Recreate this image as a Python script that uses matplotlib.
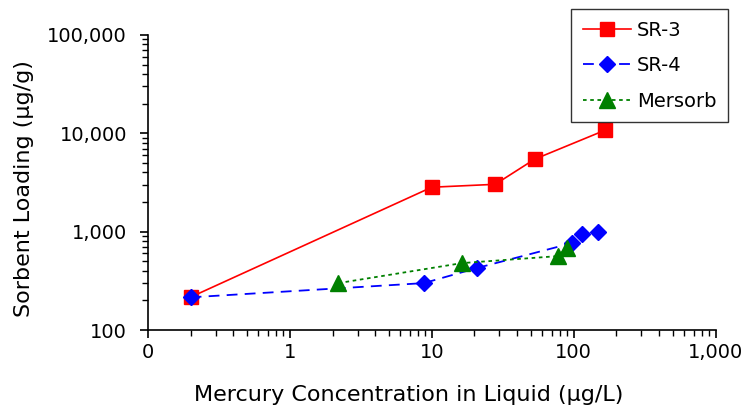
import matplotlib.pyplot as plt
from matplotlib.ticker import FixedLocator, LogLocator, NullFormatter

# data (log-log)
sr3_x = [0.2, 10, 28, 53, 165]
sr3_y = [216, 2830, 3030, 5450, 10700]

sr4_x = [0.2, 8.8, 20.7, 97, 114, 148]
sr4_y = [215, 300, 426, 764, 943, 990]

mersorb_x = [2.2, 16.3, 77, 89]
mersorb_y = [300, 479, 564, 680]

x_ticks = [0.1, 1, 10, 100, 1000]
x_tick_labels = ["0", "1", "10", "100", "1,000"]
y_ticks = [100, 1000, 10000, 100000]
y_tick_labels = ["100", "1,000", "10,000", "100,000"]


def main():
    fig = plt.figure(figsize=(7.47, 4.11), dpi=100)
    ax = fig.add_axes([0.198, 0.197, 0.76, 0.718])

    ax.plot(sr3_x, sr3_y, color="red", linestyle="-", linewidth=1.2,
            marker="s", markersize=10, label="SR-3")
    ax.plot(sr4_x, sr4_y, color="blue", linestyle=(0, (6, 4)), linewidth=1.3,
            marker="D", markersize=8.5, label="SR-4")
    ax.plot(mersorb_x, mersorb_y, color="green", linestyle=(0, (2, 2)), linewidth=1.3,
            marker="^", markersize=11, label="Mersorb")

    ax.set_xscale("log")
    ax.set_yscale("log")
    ax.set_xlim(0.1, 1000)
    ax.set_ylim(100, 100000)

    ax.xaxis.set_major_locator(FixedLocator(x_ticks))
    ax.set_xticklabels(x_tick_labels)
    ax.yaxis.set_major_locator(FixedLocator(y_ticks))
    ax.set_yticklabels(y_tick_labels)
    ax.xaxis.set_minor_locator(LogLocator(base=10, subs=range(2, 10)))
    ax.yaxis.set_minor_locator(LogLocator(base=10, subs=range(2, 10)))
    ax.xaxis.set_minor_formatter(NullFormatter())
    ax.yaxis.set_minor_formatter(NullFormatter())

    ax.tick_params(which="major", direction="out", length=6, width=1.2,
                   labelsize=14, colors="black")
    ax.tick_params(axis="y", which="major", pad=9)
    ax.tick_params(which="minor", direction="out", length=4, width=1.0)

    for side in ["top", "right"]:
        ax.spines[side].set_visible(False)
    for side in ["left", "bottom"]:
        ax.spines[side].set_linewidth(1.2)

    ax.set_xlabel("Mercury Concentration in Liquid (\u03bcg/L)", fontsize=16)
    ax.set_ylabel("Sorbent Loading (\u03bcg/g)", fontsize=16)
    ax.xaxis.set_label_coords(0.46, -0.185)
    ax.yaxis.set_label_coords(-0.2, 0.48)

    leg = fig.legend(loc="upper right", bbox_to_anchor=(0.975, 0.978),
                     fontsize=14, frameon=True, fancybox=False, edgecolor="black",
                     handlelength=2.5, handletextpad=0.3, borderpad=0.6,
                     labelspacing=0.85, borderaxespad=0)
    leg.get_frame().set_linewidth(1.0)

    fig.savefig("out.png", dpi=100)
    plt.close(fig)


if __name__ == "__main__":
    main()
